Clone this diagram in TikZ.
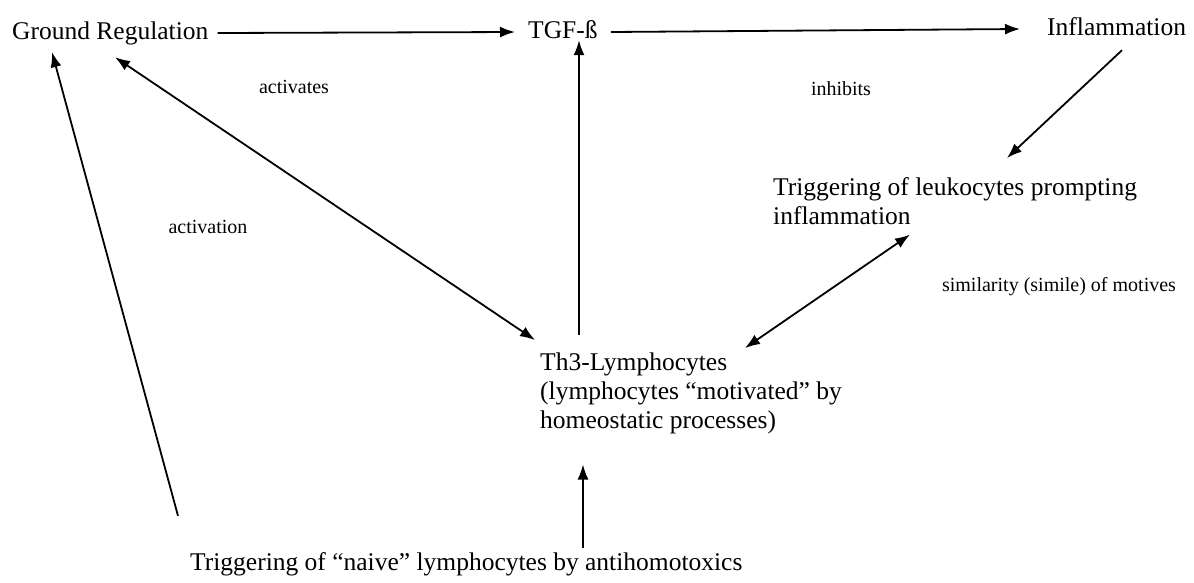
\documentclass[tikz,border=0pt]{standalone}
\usepackage{fontspec}
\setmainfont{Liberation Serif}
\usetikzlibrary{arrows.meta,calc}
\begin{document}
\begin{tikzpicture}[x=1pt,y=-1pt,
  main/.style={inner sep=0pt, font=\fontsize{25.5}{29}\selectfont, text height=17pt, text depth=5pt},
  multi/.style={inner sep=0pt, font=\fontsize{25.5}{29}\selectfont, align=left},
  lbl/.style={inner sep=0pt, font=\fontsize{20}{24}\selectfont},
  arr/.style={line width=1.8pt, -{Latex[length=15pt,width=11pt]}},
  darr/.style={line width=1.8pt, {Latex[length=15pt,width=11pt]}-{Latex[length=15pt,width=11pt]}}]
\useasboundingbox[fill=white] (0,0) rectangle (1194,582);

% main nodes
\node[main, anchor=base west] (gr) at (12,39) {Ground Regulation};
\node[main, anchor=base west] (tgf) at (528,38) {TGF-ß};
\node[main, anchor=base west] (infl) at (1047,35) {Inflammation};
\node[multi, anchor=north west] (trig) at (773,177) {Triggering of leukocytes prompting\\inflammation};
\node[multi, anchor=north west] (th3) at (540,353) {Th3-Lymphocytes\\(lymphocytes “motivated” by\\homeostatic processes)};
\node[main, anchor=base west] (naive) at (190,570) {Triggering of “naive” lymphocytes by antihomotoxics};

% labels
\node[lbl] (l1) at (294,87) {activates};
\node[lbl] (l2) at (841,89) {inhibits};
\node[lbl] (l3) at (208,227) {activation};
\node[lbl] (l4) at (1059,287) {similarity (simile) of motives};

% connectors
\draw[arr] ($(gr.east)+(9,0)$) -- ($(tgf.west)+(-13,0)$);
\draw[arr] ($(tgf.east)+(13,0)$) -- ($(infl.west)+(-27,0)$);
\draw[darr] ($(gr.south west)+(103,13)$) -- ($(th3.north west)+(-5,-13)$);
\draw[arr] ($(th3.north west)+(39,-18)$) -- ($(tgf.south west)+(51,-3)$);
\draw[arr] ($(infl.south west)+(75,10)$) -- ($(trig.north west)+(234,-19)$);
\draw[darr] ($(th3.north west)+(205,-5)$) -- ($(trig.south west)+(137,10)$);
\coordinate (lstart) at ($(naive.north west)+(-12,-37)$);
\draw[arr] (lstart) -- ($(gr.south west)+(40,8)$);
\draw[arr] ($(naive.north west)+(393,-5)$) -- ($(th3.south west)+(43,30)$);
\end{tikzpicture}
\end{document}
